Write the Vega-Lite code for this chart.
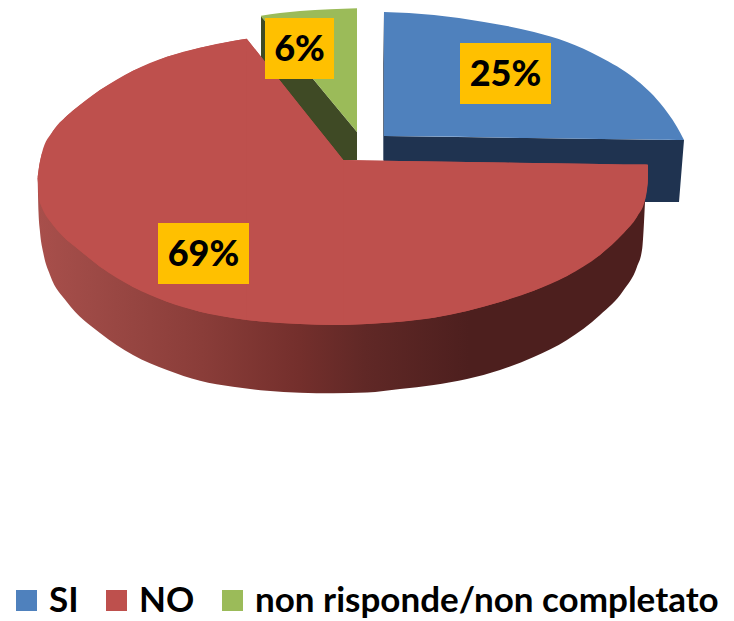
{"$schema":"https://vega.github.io/schema/vega-lite/v6.json","width":734,"height":621,"padding":0,"autosize":{"type":"fit","contains":"padding"},"background":"white","config":{"view":{"stroke":null}},
"datasets":{
"backSI":[{"x":383.3,"y":12,"y2":160},{"x":385,"y":136,"y2":165},{"x":640,"y":139.4,"y2":202},{"x":679,"y":139.9,"y2":202},{"x":684,"y":140,"y2":140}],
"backGreen":[{"x":261,"y":16,"y2":160},{"x":357,"y":132,"y2":160}],
"wallNO":[{"x":37.7,"y":178,"y2":180},{"x":38.5,"y":178,"y2":212},{"x":40,"y":178,"y2":232},{"x":43.3,"y":178,"y2":253},{"x":50,"y":178,"y2":275},{"x":66.7,"y":178,"y2":301.7},{"x":100,"y":178,"y2":333},{"x":133,"y":178,"y2":355},{"x":167,"y":178,"y2":370},{"x":200,"y":178,"y2":380.7},{"x":233,"y":178,"y2":386.7},{"x":267,"y":178,"y2":390.7},{"x":300,"y":178,"y2":392.7},{"x":333,"y":178,"y2":393.3},{"x":367,"y":178,"y2":392.5},{"x":400,"y":178,"y2":389},{"x":433.7,"y":178,"y2":385},{"x":467,"y":178,"y2":379},{"x":500,"y":178,"y2":370},{"x":533.7,"y":178,"y2":357},{"x":567,"y":178,"y2":340},{"x":600,"y":178,"y2":315},{"x":623.7,"y":178,"y2":290},{"x":637,"y":178,"y2":266.7},{"x":642,"y":178,"y2":250},{"x":645,"y":178,"y2":201.7}],
"caps":[
{"part":"SI","sec":"a","x":384,"y":12,"y2":136},{"part":"SI","sec":"a","x":434,"y":15,"y2":136.6},{"part":"SI","sec":"a","x":484,"y":22,"y2":137.3},{"part":"SI","sec":"a","x":534,"y":32,"y2":138},{"part":"SI","sec":"a","x":567,"y":42,"y2":138.4},{"part":"SI","sec":"a","x":600,"y":57,"y2":138.9},{"part":"SI","sec":"a","x":634,"y":78,"y2":139.3},{"part":"SI","sec":"a","x":660,"y":103,"y2":139.7},{"part":"SI","sec":"a","x":677,"y":127,"y2":139.9},{"part":"SI","sec":"a","x":684,"y":140,"y2":140},
{"part":"NO","sec":"a","x":37.7,"y":176.7,"y2":178},{"part":"NO","sec":"a","x":39.3,"y":165,"y2":200},{"part":"NO","sec":"a","x":41.7,"y":154,"y2":207},{"part":"NO","sec":"a","x":53,"y":131,"y2":225},{"part":"NO","sec":"a","x":66.7,"y":116,"y2":240},{"part":"NO","sec":"a","x":73,"y":110.5,"y2":245},{"part":"NO","sec":"a","x":100,"y":90,"y2":266.7},{"part":"NO","sec":"a","x":133,"y":70.7,"y2":287},{"part":"NO","sec":"a","x":167,"y":56.7,"y2":301.7},{"part":"NO","sec":"a","x":200,"y":47.7,"y2":311.7},{"part":"NO","sec":"a","x":233,"y":41,"y2":318},{"part":"NO","sec":"a","x":246.7,"y":38.7,"y2":320},
{"part":"NO","sec":"b","x":246.7,"y":38.7,"y2":320},{"part":"NO","sec":"b","x":267,"y":64.2,"y2":322},{"part":"NO","sec":"b","x":300,"y":105.7,"y2":324},{"part":"NO","sec":"b","x":333,"y":147,"y2":325},{"part":"NO","sec":"b","x":343.3,"y":160,"y2":325},
{"part":"NO","sec":"c","x":343.3,"y":160,"y2":325},{"part":"NO","sec":"c","x":367,"y":160.4,"y2":324},{"part":"NO","sec":"c","x":400,"y":160.9,"y2":321.7},{"part":"NO","sec":"c","x":433.7,"y":161.4,"y2":317.7},{"part":"NO","sec":"c","x":467,"y":161.9,"y2":311},{"part":"NO","sec":"c","x":500,"y":162.5,"y2":302},{"part":"NO","sec":"c","x":533.7,"y":163,"y2":290.7},{"part":"NO","sec":"c","x":567,"y":163.5,"y2":276},{"part":"NO","sec":"c","x":600,"y":164,"y2":255},{"part":"NO","sec":"c","x":623.7,"y":164.4,"y2":233},{"part":"NO","sec":"c","x":637,"y":164.5,"y2":216.7},{"part":"NO","sec":"c","x":645,"y":164.6,"y2":200},{"part":"NO","sec":"c","x":647.7,"y":164.7,"y2":183},{"part":"NO","sec":"c","x":648,"y":165,"y2":175},
{"part":"non risponde/non completato","sec":"a","x":261,"y":15.7,"y2":16.5},{"part":"non risponde/non completato","sec":"a","x":280,"y":13,"y2":39},{"part":"non risponde/non completato","sec":"a","x":300,"y":11,"y2":63},{"part":"non risponde/non completato","sec":"a","x":330,"y":9.3,"y2":99.4},{"part":"non risponde/non completato","sec":"a","x":357,"y":8.3,"y2":132}],
"labels":[{"label":"25%","x":460,"x2":551,"y":43,"y2":104,"cx":505.5,"cy":75},{"label":"69%","x":158,"x2":249,"y":223,"y2":284,"cx":203.5,"cy":255},{"label":"6%","x":265,"x2":334,"y":18,"y2":79,"cx":299.5,"cy":50}]},
"layer":[
{"data":{"name":"backSI"},"mark":{"type":"area","color":"#1F3350"},"encoding":{"x":{"field":"x","type":"quantitative","scale":{"domain":[0,734],"nice":false,"zero":false},"axis":null},"y":{"field":"y","type":"quantitative","scale":{"domain":[621,0],"nice":false,"zero":false},"axis":null},"y2":{"field":"y2"}}},
{"data":{"name":"backGreen"},"mark":{"type":"area","color":"#3F4A25"},"encoding":{"x":{"field":"x","type":"quantitative","axis":null},"y":{"field":"y","type":"quantitative","axis":null},"y2":{"field":"y2"}}},
{"data":{"name":"wallNO"},"mark":{"type":"area","interpolate":"monotone","fill":{"gradient":"linear","x1":0,"y1":0,"x2":1,"y2":0,"stops":[{"offset":0,"color":"#A84F4B"},{"offset":0.1,"color":"#9C4945"},{"offset":0.27,"color":"#8A3D39"},{"offset":0.43,"color":"#742F2C"},{"offset":0.54,"color":"#602826"},{"offset":0.71,"color":"#4D1F1E"},{"offset":1,"color":"#4D1F1E"}]}},"encoding":{"x":{"field":"x","type":"quantitative","axis":null},"y":{"field":"y","type":"quantitative","axis":null},"y2":{"field":"y2"}}},
{"data":{"name":"caps"},"transform":[{"filter":"datum.part === 'NO'"}],"mark":{"type":"area","color":"#BE504D"},"encoding":{"x":{"field":"x","type":"quantitative","axis":null},"y":{"field":"y","type":"quantitative","axis":null},"y2":{"field":"y2"}}},
{"data":{"name":"caps"},"mark":{"type":"area","opacity":1,"interpolate":"monotone"},"encoding":{"x":{"field":"x","type":"quantitative","axis":null},"y":{"field":"y","type":"quantitative","axis":null},"y2":{"field":"y2"},"detail":{"field":"sec"},"color":{"field":"part","type":"nominal","scale":{"domain":["SI","NO","non risponde/non completato"],"range":["#4F81BD","#BE504D","#9BBB59"]},"legend":{"title":null,"orient":"none","legendX":9,"legendY":583,"direction":"horizontal","columns":3,"symbolType":"square","symbolSize":441,"symbolStrokeWidth":0,"symbolOpacity":1,"labelFont":"Lato","labelFontWeight":"bold","labelFontSize":35,"labelColor":"#000000","labelOffset":5,"columnPadding":20,"labelLimit":600,"gridAlign":"none"}}}},
{"data":{"name":"labels"},"mark":{"type":"rect","color":"#FFC000"},"encoding":{"x":{"field":"x","type":"quantitative","axis":null},"x2":{"field":"x2"},"y":{"field":"y","type":"quantitative","axis":null},"y2":{"field":"y2"}}},
{"data":{"name":"labels"},"mark":{"type":"text","font":"Lato","fontWeight":900,"fontSize":36,"color":"#000000","align":"center","baseline":"middle"},"encoding":{"x":{"field":"cx","type":"quantitative","axis":null},"y":{"field":"cy","type":"quantitative","axis":null},"text":{"field":"label"}}}
]}
